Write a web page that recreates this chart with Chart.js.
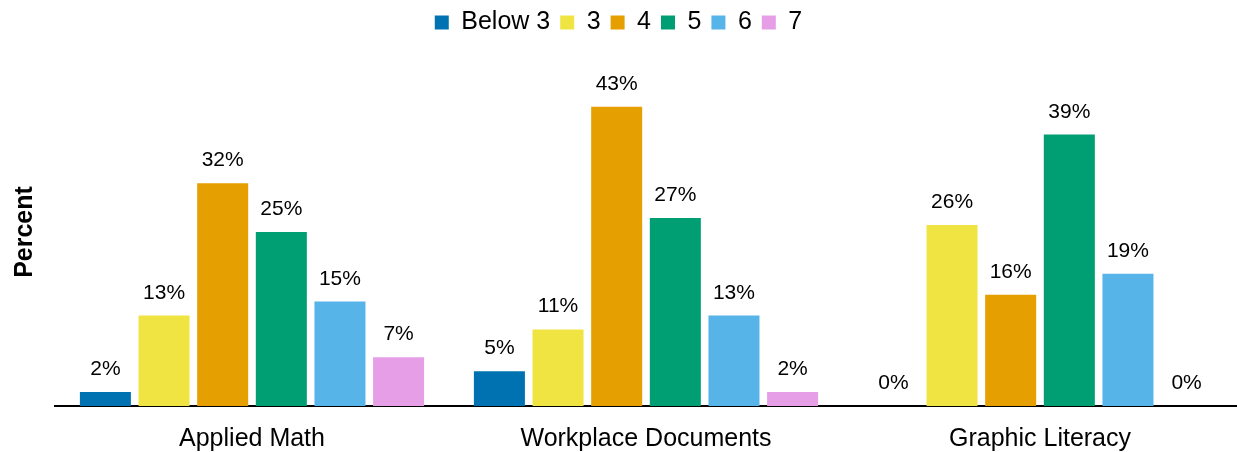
<!DOCTYPE html>
<html>
<head>
<meta charset="utf-8">
<script src="https://cdn.jsdelivr.net/npm/chart.js@4/dist/chart.umd.min.js"></script>
<style>
    body { margin: 0; background: #fff; }
    #wrap { width: 1237px; height: 452px; }
</style>
</head>
<body>
<div id="wrap"><canvas id="scoreChart"></canvas></div>
<script>
const categories = ['Applied Math', 'Workplace Documents', 'Graphic Literacy'];
const levels = ['Below 3', '3', '4', '5', '6', '7'];
const below3 = [2, 5, 0];
const level3 = [13, 11, 26];
const level4 = [32, 43, 16];
const level5 = [25, 27, 39];
const level6 = [15, 13, 19];
const level7 = [7, 2, 0];
const colors = ['#0072B2', '#F0E442', '#E69F00', '#009E73', '#56B4E9', '#E69FE6'];

Chart.defaults.font.family = "'Liberation Sans', Arial, sans-serif";
Chart.defaults.color = '#000';

// fixed legend height so the plot area starts where the reference does
const legendHeight = {
    id: 'legendHeight',
    beforeInit(chart) {
        const fit = chart.legend.fit;
        chart.legend.fit = function () {
            fit.call(this);
            this.height = 58;
        };
    }
};

// percent labels above bars
const barLabels = {
    id: 'barLabels',
    afterDatasetsDraw(chart) {
        const ctx = chart.ctx;
        ctx.save();
        ctx.font = "21px 'Liberation Sans', Arial, sans-serif";
        ctx.fillStyle = '#000';
        ctx.textAlign = 'center';
        ctx.textBaseline = 'alphabetic';
        chart.data.datasets.forEach(function (ds, i) {
            chart.getDatasetMeta(i).data.forEach(function (bar, j) {
                ctx.fillText(ds.data[j] + '%', bar.x, bar.y - 17);
            });
        });
        ctx.restore();
    }
};

const series = [below3, level3, level4, level5, level6, level7];

new Chart(document.getElementById('scoreChart'), {
    type: 'bar',
    data: {
        labels: categories,
        datasets: series.map(function (values, i) {
            return {
                label: levels[i],
                data: values,
                backgroundColor: colors[i],
                categoryPercentage: 0.893,
                barPercentage: 0.87
            };
        })
    },
    options: {
        responsive: true,
        maintainAspectRatio: false,
        animation: false,
        layout: { padding: { left: 0, right: 0, top: 0, bottom: 0 } },
        plugins: {
            legend: {
                labels: {
                    font: { size: 25 },
                    boxWidth: 14,
                    boxHeight: 14,
                    padding: 10
                }
            },
            tooltip: { enabled: false }
        },
        scales: {
            x: {
                grid: { display: false, drawTicks: false },
                border: { color: '#000', width: 2 },
                ticks: { font: { size: 25 }, padding: 18, color: '#000' },
                afterFit(scale) { scale.height = 46; }
            },
            y: {
                min: 0,
                max: 50,
                grid: { display: false, drawTicks: false },
                border: { display: false },
                ticks: { display: false },
                title: {
                    display: true,
                    text: 'Percent',
                    font: { size: 25, weight: 'bold' },
                    padding: { top: 10, bottom: 0 }
                },
                afterFit(scale) { scale.width = 55; }
            }
        }
    },
    plugins: [legendHeight, barLabels]
});
</script>
</body>
</html>
